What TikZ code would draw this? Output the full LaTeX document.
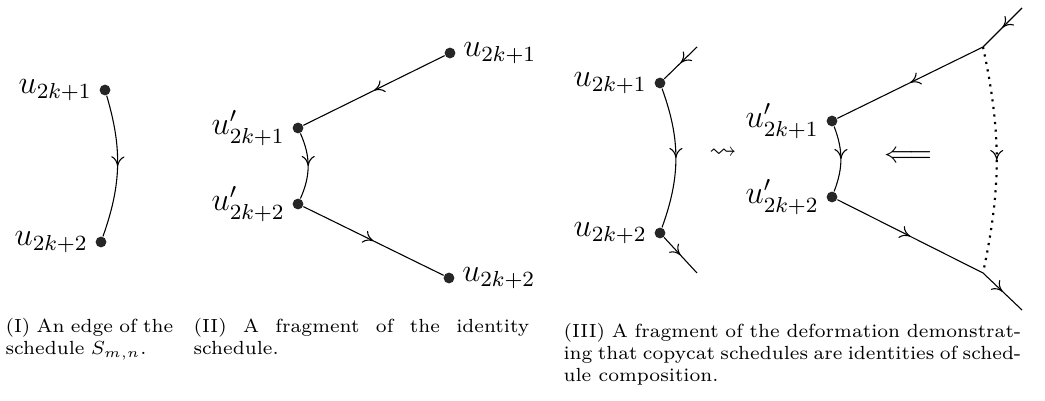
\documentclass[tikz,border=0pt]{standalone}
\usepackage{amssymb}
\usetikzlibrary{arrows.meta,decorations.markings}

\begin{document}
\begin{tikzpicture}[x=0.01295cm,y=0.01295cm,
	vertex/.style={circle,fill=black!85,inner sep=0pt,minimum size=0.14cm},
	lbl/.style={font=\large,inner sep=1pt,label distance=1.5pt},
	midarrow/.style={postaction={decorate},decoration={markings,
		mark=at position 0.5 with {\arrow[solid,line width=0.4pt]{To[length=1.3mm,width=1.7mm]}}}},
	capt/.style={anchor=north west,align=justify,inner sep=0pt,font=\scriptsize}]
	\useasboundingbox (0,0) rectangle (1045,401);
	% (I) one edge
	\node[vertex,label={[lbl]left:$u_{2k+1}$}] (a1) at (105,311) {};
	\node[vertex,label={[lbl]left:$u_{2k+2}$}] (a2) at (101,159) {};
	\draw[midarrow] (a1) to[bend left=18] (a2);
	% (II) identity fragment
	\node[vertex,label={[lbl]left:$u'_{2k+1}$}] (b1) at (298,273) {};
	\node[vertex,label={[lbl]left:$u'_{2k+2}$}] (b2) at (298,197) {};
	\node[vertex,label={[lbl]right:$u_{2k+1}$}] (c1) at (450,348) {};
	\node[vertex,label={[lbl]right:$u_{2k+2}$}] (c2) at (449,123) {};
	\draw[midarrow] (c1) -- (b1);
	\draw[midarrow] (b1) to[bend left=24] (b2);
	\draw[midarrow] (b2) -- (c2);
	% (III) deformation
	\node[vertex,label={[lbl]left:$u_{2k+1}$}] (d1) at (660,318) {};
	\node[vertex,label={[lbl]left:$u_{2k+2}$}] (d2) at (660,168) {};
	\coordinate (din) at (697,354);
	\coordinate (dout) at (697,128);
	\draw[midarrow] (din) -- (d1);
	\draw[midarrow] (d1) to[bend left=20] (d2);
	\draw[midarrow] (d2) -- (dout);
	\node (sq) at (723,248) {$\rightsquigarrow$};
	\node[vertex,label={[lbl]left:$u'_{2k+1}$}] (e1) at (832,280) {};
	\node[vertex,label={[lbl]left:$u'_{2k+2}$}] (e2) at (832,204) {};
	\coordinate (j1) at (983,354);
	\coordinate (j2) at (983,128);
	\coordinate (ein) at (1022,393);
	\coordinate (eout) at (1022,91);
	\draw[midarrow] (ein) -- (j1);
	\draw[midarrow] (j1) -- (e1);
	\draw[midarrow] (e1) to[bend left=21] (e2);
	\draw[midarrow] (e2) -- (j2);
	\draw[midarrow] (j2) -- (eout);
	\draw[midarrow,dotted,line width=0.8pt] (j1) to[bend left=12] (j2);
	\node[font=\fontsize{11}{13}\selectfont] (dbl) at (908,244) {$\Longleftarrow$};
	% captions
	\node[capt,text width=2.25cm,align=left] (cap1) at (5,83)
		{(I) An edge of the schedule $S_{m,n}$.};
	\node[capt,text width=4.35cm] (cap2) at (193,83)
		{(II) A fragment of the identity schedule.};
	\node[capt,text width=5.93cm] (cap3) at (563,78)
		{(III) A fragment of the deformation demonstrating that copycat schedules are identities of schedule composition.};
\end{tikzpicture}
\end{document}
